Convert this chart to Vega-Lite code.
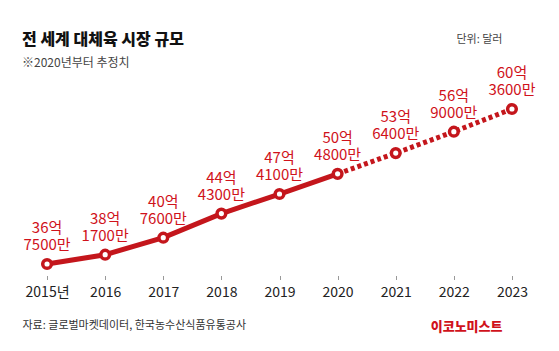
{
  "$schema": "https://vega.github.io/schema/vega-lite/v6.json",
  "width": 523,
  "height": 197,
  "autosize": {"type": "none"},
  "padding": {"left": 18, "top": 78.5, "right": 18, "bottom": 75.5},
  "background": "white",
  "config": {
    "font": "Noto Sans CJK KR",
    "view": {"stroke": null},
    "axis": {"grid": false}
  },
  "title": {
    "text": "전 세계 대체육 시장 규모",
    "subtitle": "※2020년부터 추정치",
    "anchor": "start",
    "frame": "group",
    "dx": 4,
    "offset": -36,
    "fontSize": 16,
    "fontWeight": 900,
    "color": "#111111",
    "subtitleFontSize": 12,
    "subtitleColor": "#444444",
    "subtitlePadding": 10
  },
  "datasets": {
    "actual": [
      {"year": "2015", "value": 36.75},
      {"year": "2016", "value": 38.17},
      {"year": "2017", "value": 40.76},
      {"year": "2018", "value": 44.43},
      {"year": "2019", "value": 47.41},
      {"year": "2020", "value": 50.48}
    ],
    "estimate": [
      {"year": "2020", "value": 50.48},
      {"year": "2021", "value": 53.64},
      {"year": "2022", "value": 56.90},
      {"year": "2023", "value": 60.36}
    ],
    "points": [
      {"year": "2015", "value": 36.75, "label": "36억\n7500만"},
      {"year": "2016", "value": 38.17, "label": "38억\n1700만"},
      {"year": "2017", "value": 40.76, "label": "40억\n7600만"},
      {"year": "2018", "value": 44.43, "label": "44억\n4300만"},
      {"year": "2019", "value": 47.41, "label": "47억\n4100만"},
      {"year": "2020", "value": 50.48, "label": "50억\n4800만"},
      {"year": "2021", "value": 53.64, "label": "53억\n6400만"},
      {"year": "2022", "value": 56.90, "label": "56억\n9000만"},
      {"year": "2023", "value": 60.36, "label": "60억\n3600만"}
    ]
  },
  "resolve": {"scale": {"y": "independent"}},
  "layer": [
    {
      "data": {"name": "actual"},
      "mark": {"type": "line", "color": "#c4161c", "strokeWidth": 5, "strokeCap": "butt"},
      "encoding": {
        "x": {
          "field": "year",
          "type": "ordinal",
          "scale": {"type": "point", "padding": 0.5, "domain": ["2015","2016","2017","2018","2019","2020","2021","2022","2023"]},
          "axis": {
            "domain": false,
            "ticks": true,
            "tickColor": "#999999",
            "tickSize": 4,
            "tickWidth": 1,
            "labelAngle": 0,
            "labelFontSize": 14,
            "labelColor": "#222222",
            "labelPadding": 6,
            "labelExpr": "datum.value == '2015' ? '2015년' : datum.value",
            "title": "자료: 글로벌마켓데이터, 한국농수산식품유통공사",
            "titleFontSize": 11,
            "titleFontWeight": "normal",
            "titleColor": "#333333",
            "titleAnchor": "start",
            "titleAlign": "left",
            "titleBaseline": "alphabetic",
            "titleX": 4,
            "titleY": 52.5
          }
        },
        "y": {
          "field": "value",
          "type": "quantitative",
          "scale": {"domain": [35, 65], "nice": false, "zero": false},
          "axis": {
            "domain": false, "ticks": false, "labels": false, "grid": false,
            "title": "이코노미스트",
            "titleAngle": 0,
            "titleFontSize": 13,
            "titleFontWeight": 900,
            "titleColor": "#d0121b",
            "titleAlign": "right",
            "titleBaseline": "alphabetic",
            "titleX": 484,
            "titleY": 251.5
          }
        }
      }
    },
    {
      "data": {"name": "estimate"},
      "mark": {"type": "line", "color": "#c4161c", "strokeWidth": 5, "strokeDash": [4, 3], "strokeCap": "butt"},
      "encoding": {
        "x": {"field": "year", "type": "ordinal"},
        "y": {
          "field": "value",
          "type": "quantitative",
          "scale": {"domain": [35, 65], "nice": false, "zero": false},
          "axis": {
            "orient": "right",
            "domain": false, "ticks": false, "labels": false, "grid": false,
            "title": "단위: 달러",
            "titleAngle": 0,
            "titleFontSize": 11,
            "titleFontWeight": "normal",
            "titleColor": "#444444",
            "titleAlign": "right",
            "titleBaseline": "alphabetic",
            "titleX": -39,
            "titleY": -36.5
          }
        }
      }
    },
    {
      "data": {"name": "points"},
      "mark": {"type": "point", "shape": "circle", "filled": true, "fill": "white", "stroke": "#c4161c", "strokeWidth": 3.5, "size": 75, "opacity": 1},
      "encoding": {
        "x": {"field": "year", "type": "ordinal"},
        "y": {"field": "value", "type": "quantitative", "scale": {"domain": [35, 65], "nice": false, "zero": false}, "axis": null}
      }
    },
    {
      "data": {"name": "points"},
      "mark": {"type": "text", "color": "#d0121b", "fontSize": 15, "lineBreak": "\n", "lineHeight": 17, "baseline": "alphabetic", "align": "center", "dy": -31},
      "encoding": {
        "x": {"field": "year", "type": "ordinal"},
        "y": {"field": "value", "type": "quantitative", "scale": {"domain": [35, 65], "nice": false, "zero": false}, "axis": null},
        "text": {"field": "label"}
      }
    }
  ]
}
